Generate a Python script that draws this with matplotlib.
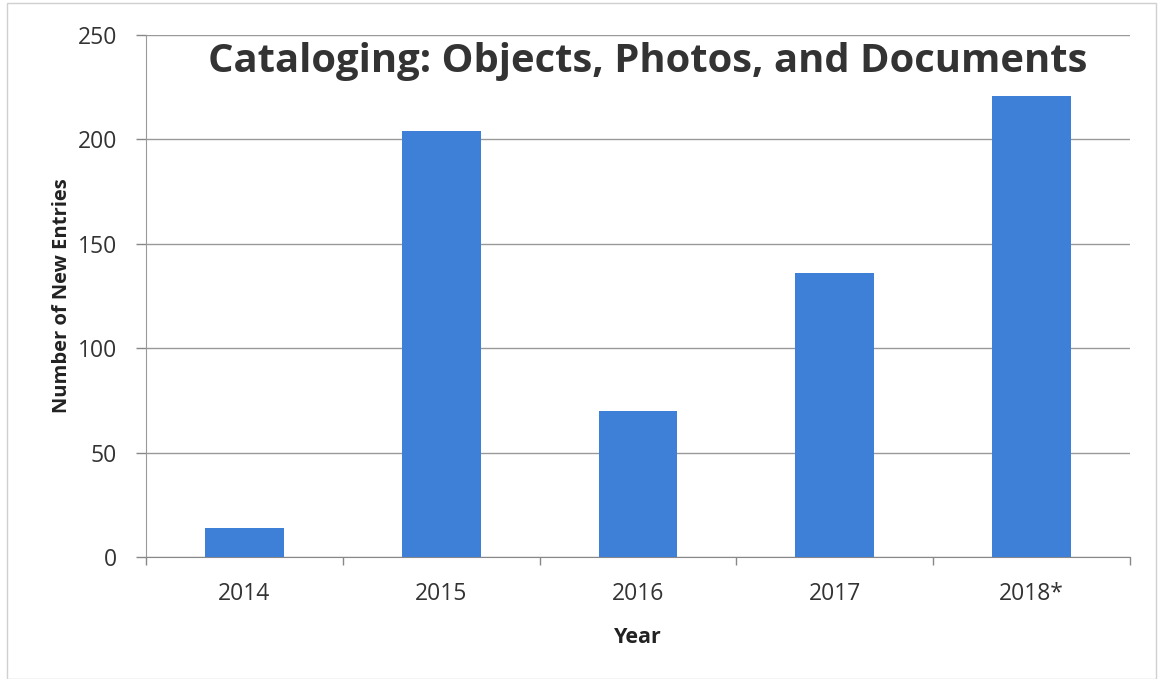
import matplotlib
matplotlib.use("Agg")
import matplotlib.pyplot as plt
from matplotlib.patches import Rectangle

years = ["2014", "2015", "2016", "2017", "2018*"]
entries = [14, 204, 70, 136, 221]
yticks = [0, 50, 100, 150, 200, 250]

W, H = 1161, 679
fig = plt.figure(figsize=(W/100, H/100), dpi=100)
fig.patch.set_facecolor("white")
fig.patches.append(Rectangle((0.006, 0.0), 0.99, 0.995, transform=fig.transFigure,
                             fill=False, edgecolor="#d0d0d0", linewidth=1))

ax = fig.add_axes([146/W, 1-557/H, (1130-146)/W, (557-35)/H])
x = list(range(len(years)))
ax.bar(x, entries, width=0.4, color="#3E7FD8", zorder=3)
ax.set_xlim(-0.5, len(years)-0.5)
ax.set_ylim(0, 250)
ax.set_yticks(yticks)
ax.set_yticklabels([str(v) for v in yticks])
ax.set_xticks(x)
ax.set_xticklabels(years)
ax.set_xticks([i-0.5 for i in range(len(years)+1)], minor=True)
ax.tick_params(axis="x", which="major", length=0, pad=18, labelsize=16.5, labelcolor="#333333")
ax.tick_params(axis="x", which="minor", length=6, width=1, color="#888888", direction="out")
ax.tick_params(axis="y", length=7, width=1, color="#888888", pad=14, labelsize=16.5, labelcolor="#333333")
for lab in ax.get_xticklabels() + ax.get_yticklabels():
    lab.set_family("Open Sans")

ax.grid(axis="y", color="#999999", linewidth=1, zorder=0)
for s in ["top", "right"]:
    ax.spines[s].set_visible(False)
ax.spines["left"].set_color("#999999")
ax.spines["bottom"].set_color("#888888")

ax.set_ylabel("Number of New Entries", fontsize=14.5, fontweight="bold", family="Open Sans",
              color="#222222", labelpad=4)
ax.set_xlabel("Year", fontsize=15.5, fontweight="bold", family="Open Sans", color="#222222",
              labelpad=15)
ax.text(0.5 + 10/984, 0.95, "Cataloging: Objects, Photos, and Documents", transform=ax.transAxes,
        ha="center", va="center", fontsize=28.8, fontweight="bold", family="Open Sans",
        color="#333333", zorder=5)

fig.savefig("out.png", dpi=100)
